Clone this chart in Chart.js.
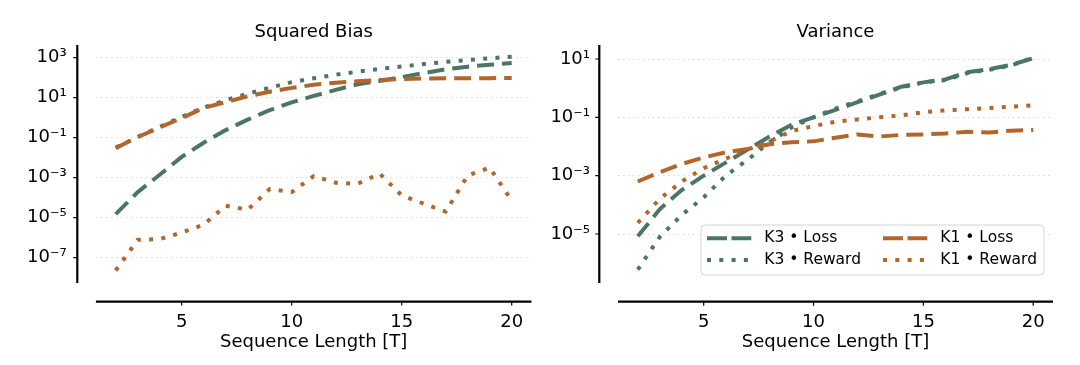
<!DOCTYPE html>
<html>
<head>
<meta charset="utf-8">
<script src="https://cdn.jsdelivr.net/npm/chart.js@4.4.1/dist/chart.umd.min.js"></script>
<style>
  html, body { margin: 0; padding: 0; background: #fff; }
  #wrap { position: relative; width: 1080px; height: 365px; overflow: hidden; }
  #biasChart { position: absolute; left: 0; top: 0; }
  #varChart { position: absolute; left: 530px; top: 0; }
</style>
</head>
<body>
<div id="wrap">
  <canvas id="biasChart" width="560" height="365"></canvas>
  <canvas id="varChart" width="550" height="365"></canvas>
</div>
<script>
// sequence lengths on the x axis
const seqLen = [2, 3, 4, 5, 6, 7, 8, 9, 10, 11, 12, 13, 14, 15, 16, 17, 18, 19, 20];

// squared bias (left panel)
const biasK3Loss   = [1.5e-5, 1.9e-4, 1.4e-3, 1.1e-2, 5.6e-2, 0.24, 0.8, 2.4, 5.8, 12.3, 24.5, 46.8, 69, 107, 170, 263, 355, 447, 537];
const biasK3Reward = [0.032, 0.11, 0.35, 1.1, 3.2, 7.6, 15.8, 31.6, 60, 93, 141, 200, 275, 363, 479, 617, 759, 933, 1122];
const biasK1Loss   = [0.030, 0.107, 0.33, 0.95, 3.1, 6.0, 11.7, 20, 31, 44, 56, 66, 76, 85, 91, 93, 95, 95, 96];
const biasK1Reward = [2.3e-8, 7.9e-7, 8.5e-7, 1.8e-6, 4.5e-6, 4.0e-5, 2.5e-5, 2.7e-4, 1.9e-4, 1.2e-3, 5.6e-4, 5.0e-4, 1.6e-3, 1.3e-4, 5.0e-5, 2.0e-5, 1.3e-3, 3.2e-3, 7.1e-5];

// variance (right panel)
const varK3Loss   = [8.3e-6, 7.1e-5, 3.2e-4, 1.0e-3, 2.8e-3, 7.9e-3, 2.2e-2, 5.6e-2, 0.1, 0.18, 0.33, 0.6, 1.12, 1.58, 2.0, 3.5, 4.5, 6.3, 10.7];
const varK3Reward = [6.0e-7, 7.9e-6, 4.5e-5, 1.8e-4, 1.0e-3, 3.5e-3, 1.4e-2, 4.5e-2, 0.1, 0.2, 0.35, 0.63, 1.05, 1.58, 1.9, 3.3, 4.3, 6.0, 11.2];
const varK1Loss   = [6.3e-4, 1.3e-3, 2.5e-3, 4.2e-3, 6.3e-3, 8.3e-3, 1.2e-2, 1.4e-2, 1.5e-2, 2.0e-2, 2.6e-2, 2.2e-2, 2.5e-2, 2.6e-2, 2.8e-2, 3.2e-2, 3.0e-2, 3.5e-2, 3.7e-2];
const varK1Reward = [2.4e-5, 1.6e-4, 6.3e-4, 1.8e-3, 3.8e-3, 7.9e-3, 1.5e-2, 3.4e-2, 5.0e-2, 7.1e-2, 8.5e-2, 0.1, 0.117, 0.15, 0.174, 0.19, 0.21, 0.23, 0.26];

// tick labels
const xTicks = [5, 10, 15, 20];
const biasTicks = [1e-7, 1e-5, 1e-3, 1e-1, 1e1, 1e3];
const varTicks = [1e-5, 1e-3, 1e-1, 1e1];

const seriesNames = ['K3 \u2022 Loss', 'K3 \u2022 Reward', 'K1 \u2022 Loss', 'K1 \u2022 Reward'];

const GREEN = '#4b7565';
const ORANGE = '#b3662b';
const FONT = "'DejaVu Sans', sans-serif";

const SUP = { '-': '\u207B', '0': '\u2070', '1': '\u00B9', '2': '\u00B2', '3': '\u00B3',
  '4': '\u2074', '5': '\u2075', '6': '\u2076', '7': '\u2077', '8': '\u2078', '9': '\u2079' };

function powLabel(v) {
  const e = Math.round(Math.log10(v));
  return '10' + String(e).split('').map(c => SUP[c]).join('');
}

function makeDatasets(k3Loss, k3Reward, k1Loss, k1Reward) {
  const styles = [
    { color: GREEN, dash: [17, 8], legendDash: [20, 4.5], order: 4 },
    { color: GREEN, dash: [4, 8.3], legendDash: [4, 8.3], order: 3 },
    { color: ORANGE, dash: [17, 8], legendDash: [20, 4.5], order: 2 },
    { color: ORANGE, dash: [4, 8.3], legendDash: [4, 8.3], order: 1 }
  ];
  return [k3Loss, k3Reward, k1Loss, k1Reward].map((vals, i) => ({
    label: seriesNames[i],
    data: seqLen.map((x, j) => ({ x: x, y: vals[j] })),
    borderColor: styles[i].color,
    backgroundColor: styles[i].color,
    borderWidth: 4,
    borderDash: styles[i].dash,
    borderCapStyle: 'butt',
    borderJoinStyle: 'round',
    legendDash: styles[i].legendDash,
    pointRadius: 0,
    tension: 0,
    fill: false,
    order: styles[i].order
  }));
}

// detached axis lines (seaborn style offset spines) with outward ticks
const spines = {
  id: 'spines',
  afterDraw(chart, args, opts) {
    const { ctx, chartArea: a, scales: { x, y } } = chart;
    const sx = a.left - opts.gap;
    const sy = a.bottom + opts.gap;
    ctx.save();
    ctx.strokeStyle = '#000';
    ctx.lineWidth = 2.2;
    ctx.beginPath();
    ctx.moveTo(sx, a.top);
    ctx.lineTo(sx, a.bottom);
    ctx.moveTo(a.left, sy);
    ctx.lineTo(a.right, sy);
    ctx.stroke();
    ctx.lineWidth = 1.2;
    ctx.beginPath();
    y.ticks.forEach(t => {
      const py = y.getPixelForValue(t.value);
      ctx.moveTo(sx, py);
      ctx.lineTo(sx - 4, py);
    });
    x.ticks.forEach(t => {
      const px = x.getPixelForValue(t.value);
      ctx.moveTo(px, sy);
      ctx.lineTo(px, sy + 4);
    });
    ctx.stroke();
    ctx.restore();
  }
};

// two-column legend box in the lower right of the plot area
const legendBox = {
  id: 'legendBox',
  afterDraw(chart, args, opts) {
    if (!opts.show) return;
    const { ctx, chartArea: a } = chart;
    const w = 343, h = 50;
    const left = a.right - 9 - w;
    const top = a.bottom - 8 - h;
    ctx.save();
    ctx.beginPath();
    ctx.roundRect(left, top, w, h, 4);
    ctx.fillStyle = 'rgba(255,255,255,0.9)';
    ctx.fill();
    ctx.strokeStyle = '#d4d4d4';
    ctx.lineWidth = 1;
    ctx.stroke();
    ctx.font = '15.5px ' + FONT;
    ctx.textBaseline = 'middle';
    ctx.textAlign = 'left';
    chart.data.datasets.forEach((ds, i) => {
      const col = Math.floor(i / 2), row = i % 2;
      const hx = left + 6 + col * 176;
      const hy = top + 13.3 + row * 21.7;
      ctx.strokeStyle = ds.borderColor;
      ctx.lineWidth = ds.borderWidth;
      ctx.lineCap = 'butt';
      ctx.setLineDash(ds.legendDash);
      ctx.beginPath();
      ctx.moveTo(hx, hy);
      ctx.lineTo(hx + 44.3, hy);
      ctx.stroke();
      ctx.setLineDash([]);
      ctx.fillStyle = '#000';
      ctx.fillText(ds.label, hx + 57.3, hy);
    });
    ctx.restore();
  }
};

function makeChart(canvasId, title, datasets, yTicks, yMinExp, yMaxExp, layout) {
  return new Chart(document.getElementById(canvasId), {
    type: 'line',
    data: { datasets: datasets },
    plugins: [spines, legendBox],
    options: {
      responsive: false,
      animation: false,
      layout: { padding: { left: 0, right: layout.padRight, top: 0, bottom: 0 } },
      plugins: {
        legend: { display: false },
        tooltip: { enabled: false },
        title: {
          display: true,
          text: title,
          fullSize: false,
          color: '#000',
          font: { family: FONT, size: 18, weight: 'normal' },
          padding: { top: 21.5, bottom: 1.9 }
        },
        spines: { gap: layout.gap },
        legendBox: { show: layout.legend }
      },
      scales: {
        x: {
          type: 'linear',
          min: 1.1,
          max: 20.9,
          afterBuildTicks: s => { s.ticks = xTicks.map(v => ({ value: v })); },
          afterFit: s => { s.height = 82; },
          grid: { display: false, drawTicks: false },
          border: { display: false },
          ticks: {
            autoSkip: false,
            maxRotation: 0,
            color: '#000',
            padding: 28.5,
            font: { family: FONT, size: 18 }
          },
          title: {
            display: true,
            text: 'Sequence Length [T]',
            color: '#000',
            font: { family: FONT, size: 18 },
            padding: { top: 0, bottom: 12 }
          }
        },
        y: {
          type: 'logarithmic',
          min: Math.pow(10, yMinExp),
          max: Math.pow(10, yMaxExp),
          afterBuildTicks: s => { s.ticks = yTicks.map(v => ({ value: v })); },
          afterFit: s => { s.width = layout.axisWidth; },
          grid: {
            color: '#d9d9d9',
            lineWidth: 1,
            drawTicks: false,
            borderDash: [1.5, 3.5]
          },
          border: { display: false, dash: [1.5, 3.5] },
          ticks: {
            autoSkip: false,
            color: '#000',
            padding: layout.labelPad,
            font: { family: FONT, size: 18 },
            callback: v => powLabel(v)
          }
        }
      }
    }
  });
}

makeChart('biasChart', 'Squared Bias',
  makeDatasets(biasK3Loss, biasK3Reward, biasK1Loss, biasK1Reward),
  biasTicks, -8.265, 3.635,
  { axisWidth: 95.9, padRight: 28.5, gap: 18.6, labelPad: 29.2, legend: false });

makeChart('varChart', 'Variance',
  makeDatasets(varK3Loss, varK3Reward, varK1Loss, varK1Reward),
  varTicks, -6.68, 1.48,
  { axisWidth: 88, padRight: 27, gap: 18.7, labelPad: 28, legend: true });
</script>
</body>
</html>
